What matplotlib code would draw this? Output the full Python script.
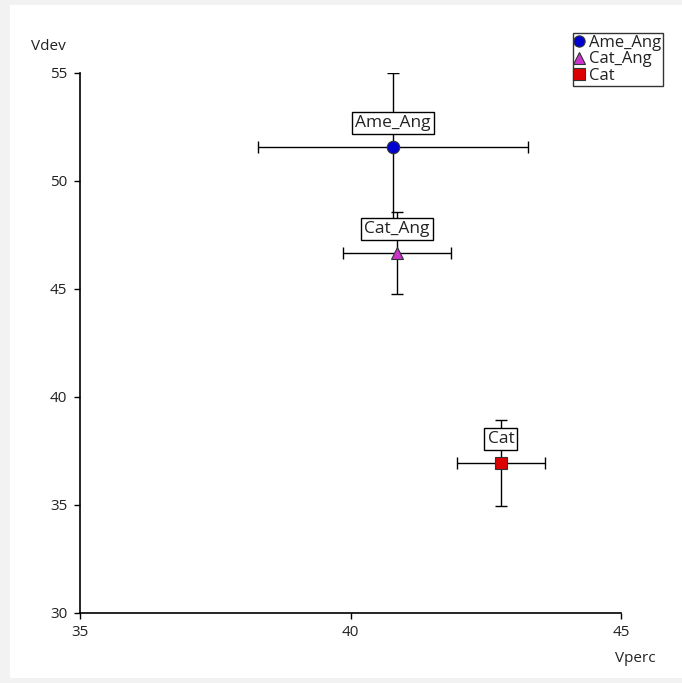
import matplotlib.pyplot as plt
from matplotlib.patches import Rectangle

plt.rcParams['font.family'] = ['Open Sans', 'DejaVu Sans']

# data
names = ['Ame_Ang', 'Cat_Ang', 'Cat']
vperc = [40.79, 40.86, 42.78]
vdev = [51.57, 46.67, 36.95]
vperc_err = [2.5, 0.99, 0.81]
vdev_err = [3.43, 1.9, 2.0]

markers = ['o', '^', 's']
colors = ['#0000d0', '#cc33cc', '#dd0000']

fig = plt.figure(figsize=(6.82, 6.83), dpi=100, facecolor='#f2f2f2')
fig.patches.append(Rectangle((10 / 682, 5 / 683), 1, 1 - 10 / 683,
                             transform=fig.transFigure, facecolor='white',
                             edgecolor='none', zorder=-10))
ax = fig.add_axes([80 / 682, 70 / 683, 541 / 682, 540 / 683])
ax.set_facecolor('white')

for i in range(len(names)):
    ax.errorbar(vperc[i], vdev[i], xerr=vperc_err[i], yerr=vdev_err[i],
                fmt='none', ecolor='black', elinewidth=1, capsize=4.5,
                capthick=1, zorder=2)
for i in range(len(names)):
    ax.plot(vperc[i], vdev[i], marker=markers[i], linestyle='none',
            markersize=9, markerfacecolor=colors[i], markeredgecolor='#333333',
            markeredgewidth=0.8, label=names[i], zorder=4)
    ax.annotate(names[i], xy=(vperc[i], vdev[i]), xytext=(0, 24),
                textcoords='offset pixels', ha='center', va='center',
                fontsize=12.5, color='#222222', zorder=5,
                bbox=dict(boxstyle='square,pad=0.18', facecolor='white',
                          edgecolor='black', linewidth=1))

ax.set_xlim(35, 45)
ax.set_ylim(30, 55)
ax.set_xticks([35, 40, 45])
ax.set_yticks([30, 35, 40, 45, 50, 55])
ax.tick_params(labelsize=11, length=4, width=1, colors='black',
               labelcolor='#222222', pad=5)
for side in ['top', 'right']:
    ax.spines[side].set_visible(False)
for side in ['left', 'bottom']:
    ax.spines[side].set_linewidth(1.2)

fig.text(48 / 682, 1 - 47 / 683, 'Vdev', ha='center', va='center',
         fontsize=11, color='#222222')
fig.text(635 / 682, 1 - 658 / 683, 'Vperc', ha='center', va='center',
         fontsize=11, color='#222222')

leg = ax.legend(loc='upper right', bbox_to_anchor=(663 / 682, 1 - 33 / 683),
                bbox_transform=fig.transFigure, fontsize=12, frameon=True,
                fancybox=False, shadow=False, handlelength=0.5,
                handletextpad=0.35, borderpad=0.12, labelspacing=0.02,
                borderaxespad=0, markerscale=0.9)
leg.get_frame().set_edgecolor('black')
leg.get_frame().set_linewidth(1)
for t in leg.get_texts():
    t.set_color('#222222')

fig.savefig('out.png', dpi=100, facecolor=fig.get_facecolor())
